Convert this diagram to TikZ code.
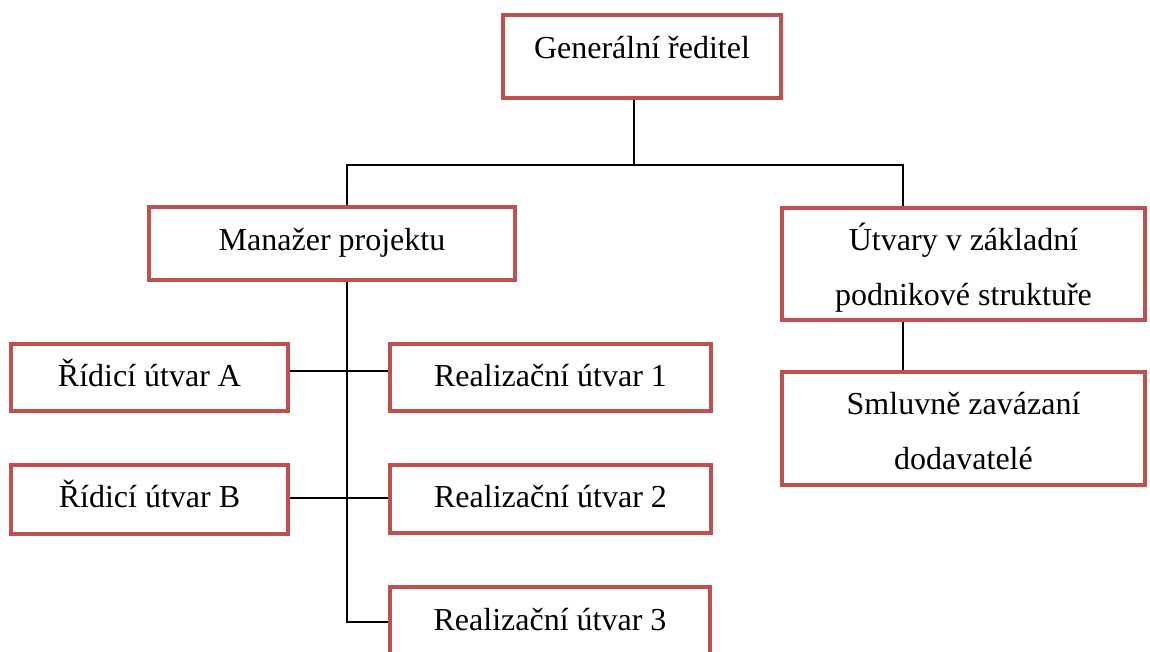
\documentclass[tikz,border=0pt]{standalone}
\usepackage{fontspec}
\setmainfont{Liberation Serif}
\definecolor{boxred}{HTML}{C0504D}
\tikzset{
  unitbox/.style={draw=boxred, line width=3.6pt, rectangle, inner sep=0pt, fill=white},
  lbl/.style={anchor=base, inner sep=0pt, align=center, font=\fontsize{32}{55}\selectfont},
  conn/.style={draw=black, line width=1.7pt}
}
\begin{document}
\begin{tikzpicture}[x=1pt, y=-1pt]
  \clip (0,0) rectangle (1150,651);
  \fill[white] (0,0) rectangle (1150,651);

  % boxes (centre, width, height of the stroke path)
  \node[unitbox, minimum width=278pt, minimum height=83pt]  (gr) at (642,56.5)    {};
  \node[unitbox, minimum width=366pt, minimum height=73pt]  (mp) at (332,243.5)   {};
  \node[unitbox, minimum width=363pt, minimum height=112pt] (ut) at (963.5,264)   {};
  \node[unitbox, minimum width=363pt, minimum height=113pt] (sm) at (963.5,428.5) {};
  \node[unitbox, minimum width=277pt, minimum height=67pt]  (ra) at (149.5,377.5) {};
  \node[unitbox, minimum width=277pt, minimum height=69pt]  (rb) at (149.5,499.5) {};
  \node[unitbox, minimum width=321pt, minimum height=67pt]  (r1) at (550.5,377.5) {};
  \node[unitbox, minimum width=321pt, minimum height=68pt]  (r2) at (550.5,499)   {};
  \node[unitbox, minimum width=320pt, minimum height=93pt]  (r3) at (550,633.5)   {};

  % labels: the base anchor sits on the last line, 44pt (+55pt per extra line) below the top edge
  \node[lbl] (grt) at ([yshift=-45pt]gr.north) {Generální ředitel};
  \node[lbl] (mpt) at ([yshift=-45pt]mp.north) {Manažer projektu};
  \node[lbl] (utt) at ([yshift=-99pt]ut.north) {Útvary v základní\\podnikové struktuře};
  \node[lbl] (smt) at ([yshift=-99pt]sm.north) {Smluvně zavázaní\\dodavatelé};
  \node[lbl] (rat) at ([yshift=-44pt]ra.north) {Řídicí útvar A};
  \node[lbl] (rbt) at ([yshift=-44pt]rb.north) {Řídicí útvar B};
  \node[lbl] (r1t) at ([yshift=-44pt]r1.north) {Realizační útvar 1};
  \node[lbl] (r2t) at ([yshift=-44pt]r2.north) {Realizační útvar 2};
  \node[lbl] (r3t) at ([yshift=-45pt]r3.north) {Realizační útvar 3};

  % junction points
  \coordinate (top) at (634,165);
  \coordinate (busL) at (347,165);
  \coordinate (busR) at (903,165);
  \coordinate (rowA) at (347,371);
  \coordinate (rowB) at (347,498);
  \coordinate (spine) at (347,622);

  % connectors
  \draw[conn] (gr.south -| top) -- (top);
  \draw[conn] (mp.north -| busL) -- (busL) -- (busR) -- (ut.north -| busR);
  \draw[conn] (mp.south -| spine) -- (spine) -- (spine -| r3.west);
  \draw[conn] (rowA -| ra.east) -- (rowA -| r1.west);
  \draw[conn] (rowB -| rb.east) -- (rowB -| r2.west);
  \draw[conn] (ut.south -| busR) -- (sm.north -| busR);
\end{tikzpicture}
\end{document}
